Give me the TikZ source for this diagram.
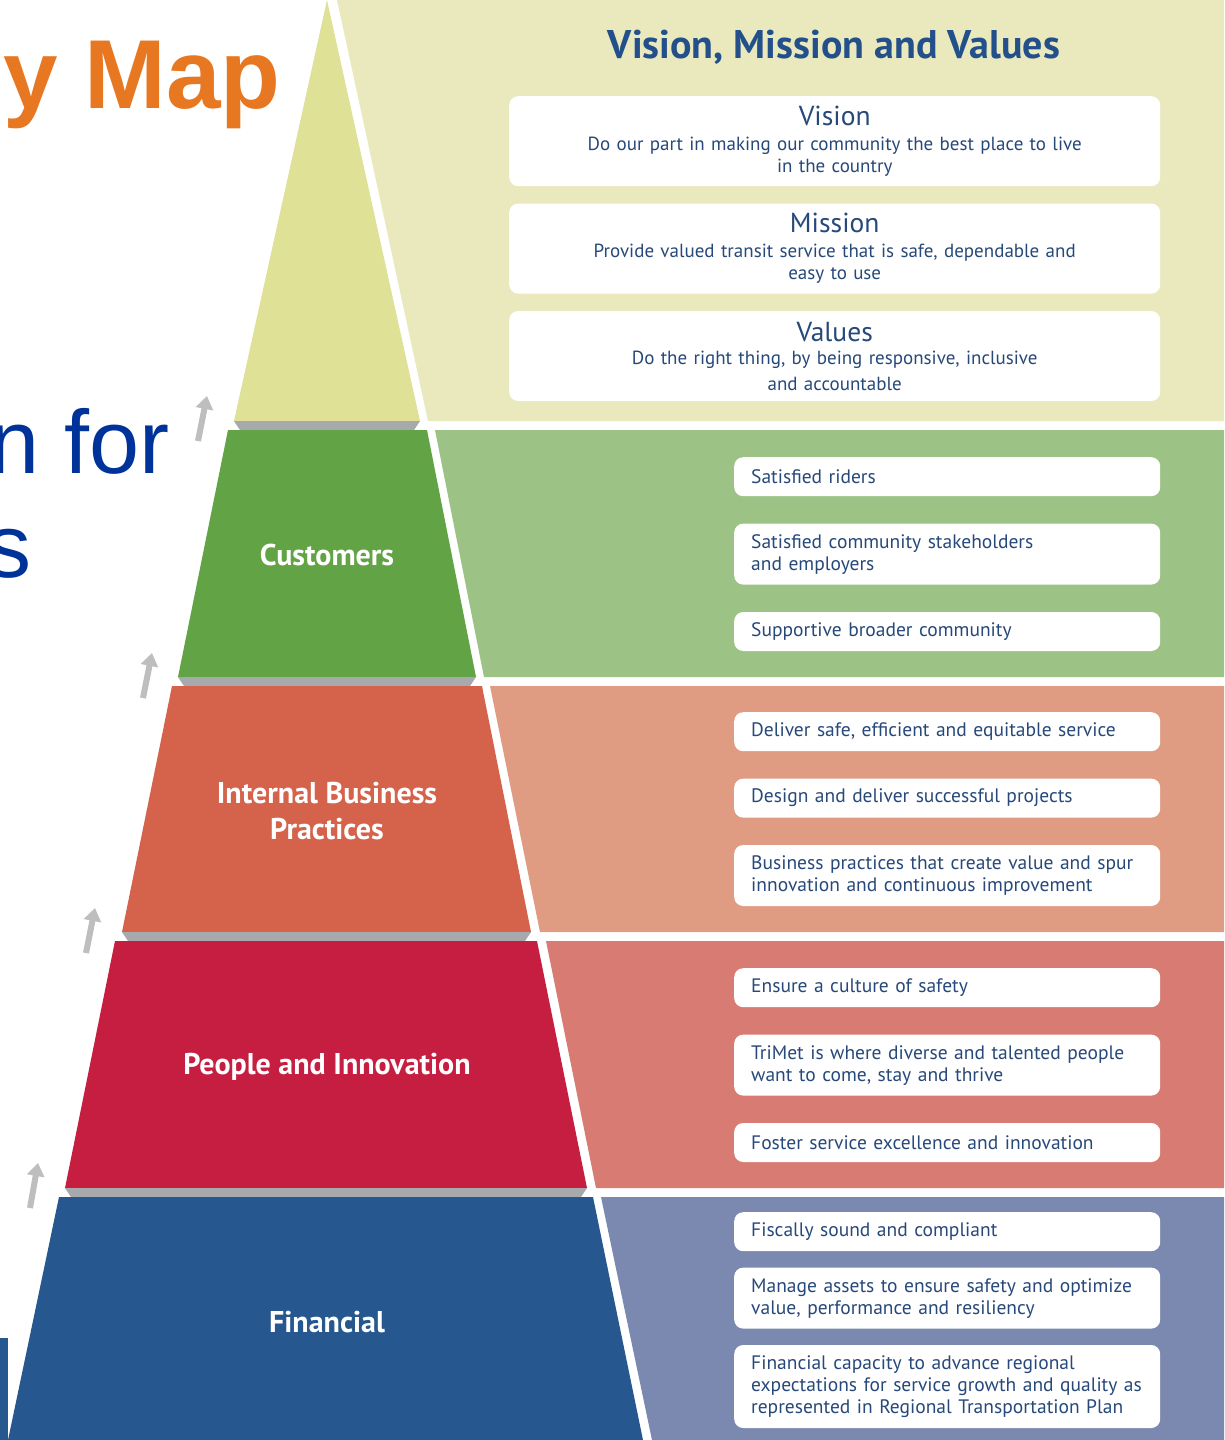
\documentclass[tikz,border=0pt]{standalone}
\usepackage{fontspec}
\setmainfont{PT Sans}
\newfontfamily\arialfont{Liberation Sans}
\usetikzlibrary{positioning, arrows.meta}

\definecolor{vmvtier}{HTML}{DFE196}
\definecolor{vmvpanel}{HTML}{EAE9BE}
\definecolor{custtier}{HTML}{62A445}
\definecolor{custpanel}{HTML}{9DC285}
\definecolor{ibptier}{HTML}{D5634B}
\definecolor{ibppanel}{HTML}{E09C83}
\definecolor{ppltier}{HTML}{C61E40}
\definecolor{pplpanel}{HTML}{D77B73}
\definecolor{fintier}{HTML}{26578E}
\definecolor{finpanel}{HTML}{7B88AF}
\definecolor{bevel}{HTML}{A7A9AC}
\definecolor{arrowgrey}{HTML}{BEBEBE}
\definecolor{boxtext}{HTML}{27497A}
\definecolor{titleblue}{HTML}{23508A}
\definecolor{maporange}{HTML}{E87722}
\definecolor{forblue}{HTML}{003399}

\begin{document}
\begin{tikzpicture}[x=1pt, y=-1pt]
\tikzstyle{goal}=[rectangle, rounded corners=9pt, fill=white, text=boxtext, inner xsep=17pt, inner ysep=0pt, text width=392pt, align=left, minimum height=39pt, font=\fontsize{19.5}{22}\selectfont]
\tikzstyle{big}=[rectangle, rounded corners=9pt, fill=white, text=boxtext, inner xsep=20pt, inner ysep=0pt, text width=611pt, align=center, minimum height=90pt, font=\fontsize{19}{22}\selectfont]
\tikzstyle{tierlbl}=[text=white, align=center, font=\bfseries\fontsize{30}{36}\selectfont]
\tikzstyle{climb}=[line width=6pt, draw=arrowgrey, -{Triangle[width=17pt,length=13pt]}]
\useasboundingbox (0,0) rectangle (1224,1440);
\clip (0,0) rectangle (1224,1440);
\fill[white] (0,0) rectangle (1224,1440);
% 1. Panels and pyramid
%%%%%%%%%%
\fill[vmvpanel] (337,0) -- (1224,0) -- (1224,421) -- (428,421) -- cycle;
\fill[custpanel] (435,430) -- (1224,430) -- (1224,677) -- (484,677) -- cycle;
\fill[ibppanel] (490,686) -- (1224,686) -- (1224,932) -- (540,932) -- cycle;
\fill[pplpanel] (546,941) -- (1224,941) -- (1224,1188) -- (596,1188) -- cycle;
\fill[finpanel] (601,1197) -- (1224,1197) -- (1224,1440) -- (652,1440) -- cycle;

\fill[vmvtier] (327,0) -- (420,421) -- (234,421) -- cycle;
\fill[bevel] (234,421) -- (420,421) -- (414,430) -- (240,430) -- cycle;
\fill[custtier] (228,430) -- (427,430) -- (476,677) -- (178,677) -- cycle;
\fill[bevel] (178,677) -- (476,677) -- (470,686) -- (184,686) -- cycle;
\fill[ibptier] (172,686) -- (482,686) -- (531,932) -- (122,932) -- cycle;
\fill[bevel] (122,932) -- (531,932) -- (525,941) -- (128,941) -- cycle;
\fill[ppltier] (115,941) -- (537,941) -- (587,1188) -- (65,1188) -- cycle;
\fill[bevel] (65,1188) -- (587,1188) -- (581,1197) -- (71,1197) -- cycle;
\fill[fintier] (59,1197) -- (593,1197) -- (643,1440) -- (8,1440) -- cycle;

\fill[fintier] (0,1338) rectangle (8,1440);

% 2. Nodes
%%%%%%%%%%
\node[anchor=base east, inner sep=0, text=maporange, font=\arialfont\bfseries\fontsize{98}{100}\selectfont] (map) at (281,108) {y Map};
\node[anchor=base east, inner sep=0, text=forblue, font=\arialfont\fontsize{90}{104}\selectfont] (for) at (170,473) {n for};
\node[anchor=base east, inner sep=0, text=forblue, font=\arialfont\fontsize{90}{104}\selectfont] (s) at (32,577) {s};

\node[tierlbl] (cust) at (327,555) {Customers};
\node[tierlbl] (ibp) at (327,811) {Internal Business\\Practices};
\node[tierlbl] (ppl) at (327,1067) {People and Innovation};
\node[tierlbl] (fin) at (327,1322) {Financial};

\node[text=titleblue, font=\bfseries\fontsize{40}{42}\selectfont] (vmv) at (834,47) {Vision, Mission and Values};
\node[big, anchor=north west] (vision) at (509,96) {{\fontsize{27.5}{32}\selectfont Vision}\\[3pt]Do our part in making our community the best place to live\\in the country};
\node[big] (mission) [below=17pt of vision] {{\fontsize{27.5}{32}\selectfont Mission}\\[3pt]Provide valued transit service that is safe, dependable and\\easy to use};
\node[big] (values) [below=17pt of mission] {{\fontsize{27.5}{32}\selectfont Values}\\[1pt]Do the right thing, by being responsive, inclusive\\[4pt]and accountable};

\node[goal, anchor=north west] (c1) at (734,457) {Satisfied riders};
\node[goal, minimum height=61pt] (c2) [below=27pt of c1] {Satisfied community stakeholders\\and employers};
\node[goal] (c3) [below=27pt of c2] {Supportive broader community};

\node[goal, anchor=north west] (i1) at (734,712) {Deliver safe, efficient and equitable service};
\node[goal] (i2) [below=27pt of i1] {Design and deliver successful projects};
\node[goal, minimum height=61pt] (i3) [below=27pt of i2] {Business practices that create value and spur\\innovation and continuous improvement};

\node[goal, anchor=north west] (p1) at (734,968) {Ensure a culture of safety};
\node[goal, minimum height=61pt] (p2) [below=27pt of p1] {TriMet is where diverse and talented people\\want to come, stay and thrive};
\node[goal] (p3) [below=27pt of p2] {Foster service excellence and innovation};

\node[goal, anchor=north west] (f1) at (734,1212) {Fiscally sound and compliant};
\node[goal, minimum height=61pt] (f2) [below=16pt of f1] {Manage assets to ensure safety and optimize\\value, performance and resiliency};
\node[goal, minimum height=83pt] (f3) [below=16pt of f2] {Financial capacity to advance regional\\expectations for service growth and quality as\\represented in Regional Transportation Plan};

% 3. Arrows
%%%%%%%%%%%
\coordinate (a1) at (198,441); \coordinate (b1) at (207,396);
\coordinate (a2) at (143,698); \coordinate (b2) at (152,653);
\coordinate (a3) at (86,953);  \coordinate (b3) at (95,908);
\coordinate (a4) at (30,1208); \coordinate (b4) at (38,1163);
\path (a1) edge [climb] (b1)
      (a2) edge [climb] (b2)
      (a3) edge [climb] (b3)
      (a4) edge [climb] (b4);

\end{tikzpicture}
\end{document}
